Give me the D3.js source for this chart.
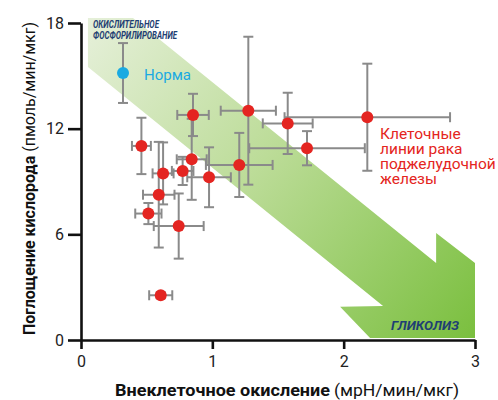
<!DOCTYPE html>
<html>
<head>
<meta charset="utf-8">
<script src="https://cdn.jsdelivr.net/npm/d3@7"></script>
<style>
  html, body { margin: 0; padding: 0; background: #fff; }
  svg { display: block; font-family: Roboto, "Noto Sans", sans-serif; }
</style>
</head>
<body>
<svg id="chart" width="498" height="400"></svg>
<script>
// ---- data ----
const cancerX    = [0.46, 0.853, 1.274, 1.574, 1.721, 2.18, 1.205, 0.975, 0.843, 0.774, 0.625, 0.513, 0.592, 0.744, 0.607];
const cancerY    = [11.02, 12.78, 13.02, 12.30, 10.89, 12.65, 9.94, 9.24, 10.26, 9.60, 9.46, 7.18, 8.25, 6.47, 2.54];
const cancerXErr = [0.072, 0.12, 0.21, 0.19, 0.44, 0.63, 0.254, 0.166, 0.114, 0.082, 0.08, 0.10, 0.12, 0.19, 0.088];
const cancerYErr = [1.6, 1.2, 4.2, 1.74, 0.97, 3.04, 1.82, 1.7, 2.3, 0.8, 1.76, 0.6, 3.0, 1.85, 0.17];
const normalX = [0.32], normalY = [15.16], normalXErr = [0], normalYErr = [1.7];
const xTicks = [0, 1, 2, 3];
const yTicks = [0, 6, 12, 18];
const normalLabel = "Норма";
const cancerLabel = ["Клеточные", "линии рака", "поджелудочной", "железы"];
const topBandLabel = ["ОКИСЛИТЕЛЬНОЕ", "ФОСФОРИЛИРОВАНИЕ"];
const arrowLabel = "ГЛИКОЛИЗ";
const xTitleBold = "Внеклеточное окисление", xTitleUnit = "(мрН/мин/мкг)";
const yTitleBold = "Поглощение кислорода", yTitleUnit = " (пмоль/мин/мкг)";
// arrow outline in data units
const arrowShape = [[0.053,18.28],[0.396,18.28],[2.704,4.37],[2.704,6.08],[3.0,4.37],[3.0,0.11],[2.201,0.11],[1.973,1.89],[2.30,1.93],[0.053,15.5]];

// ---- layout ----
const svg = d3.select("#chart");
const x = d3.scaleLinear().domain([0, 3]).range([81, 475]);
const y = d3.scaleLinear().domain([0, 18]).range([340, 23]);

const defs = svg.append("defs");
const grad = defs.append("linearGradient").attr("id", "g1")
  .attr("gradientUnits", "userSpaceOnUse")
  .attr("x1", x(0)).attr("y1", y(18)).attr("x2", x(3)).attr("y2", y(0));
grad.append("stop").attr("offset", 0).attr("stop-color", "#e6f0da");
grad.append("stop").attr("offset", 0.45).attr("stop-color", "#bcdc98");
grad.append("stop").attr("offset", 1).attr("stop-color", "#7abf3e");

svg.append("path")
  .attr("d", d3.line().x(d => x(d[0])).y(d => y(d[1]))(arrowShape) + "Z")
  .attr("fill", "url(#g1)");

// band labels
const tl = svg.append("text").attr("fill", "#1f3f73").attr("font-weight", 700)
  .attr("font-style", "italic").attr("font-size", 10);
tl.append("tspan").attr("x", 93).attr("y", 27.5).attr("textLength", 66)
  .attr("lengthAdjust", "spacingAndGlyphs").text(topBandLabel[0]);
tl.append("tspan").attr("x", 93).attr("y", 38.5).attr("textLength", 84)
  .attr("lengthAdjust", "spacingAndGlyphs").text(topBandLabel[1]);

svg.append("text").attr("x", 391).attr("y", 330).attr("fill", "#1f3f73")
  .attr("font-weight", 700).attr("font-style", "italic").attr("font-size", 12)
  .attr("textLength", 68).attr("lengthAdjust", "spacingAndGlyphs").text(arrowLabel);

// axes
const yAxis = svg.append("g").attr("transform", `translate(${x(0)},0)`)
  .call(d3.axisLeft(y).tickValues(yTicks).tickFormat(d3.format("d")).tickSize(13).tickSizeOuter(0).tickPadding(4));
const xAxis = svg.append("g").attr("transform", `translate(0,${y(0)})`)
  .call(d3.axisBottom(x).tickValues(xTicks).tickFormat(d3.format("d")).tickSize(9).tickSizeOuter(0).tickPadding(6.5));
[yAxis, xAxis].forEach(g => {
  g.selectAll("path, line").attr("stroke", "#111").attr("stroke-width", 2.6);
  g.selectAll("text").attr("font-size", 16).attr("fill", "#222").attr("font-family", "Roboto");
});

// error bars + points
function drawSeries(xs, ys, xe, ye) {
  const data = xs.map((v, i) => ({ x: v, y: ys[i], xe: xe[i], ye: ye[i] }));
  const g = svg.append("g").attr("stroke", "#8a8a8a").attr("stroke-width", 2).attr("fill", "none");
  const cap = 5;
  data.forEach(d => {
    if (d.ye > 0) {
      g.append("line").attr("x1", x(d.x)).attr("x2", x(d.x)).attr("y1", y(d.y - d.ye)).attr("y2", y(d.y + d.ye));
      [d.y - d.ye, d.y + d.ye].forEach(v => g.append("line").attr("x1", x(d.x) - cap).attr("x2", x(d.x) + cap).attr("y1", y(v)).attr("y2", y(v)));
    }
    if (d.xe > 0) {
      g.append("line").attr("y1", y(d.y)).attr("y2", y(d.y)).attr("x1", x(d.x - d.xe)).attr("x2", x(d.x + d.xe));
      [d.x - d.xe, d.x + d.xe].forEach(v => g.append("line").attr("y1", y(d.y) - cap).attr("y2", y(d.y) + cap).attr("x1", x(v)).attr("x2", x(v)));
    }
  });
  return data;
}
const cd = drawSeries(cancerX, cancerY, cancerXErr, cancerYErr);
const nd = drawSeries(normalX, normalY, normalXErr, normalYErr);
svg.append("g").selectAll("circle").data(cd).join("circle")
  .attr("cx", d => x(d.x)).attr("cy", d => y(d.y)).attr("r", 6).attr("fill", "#e42521");
svg.append("g").selectAll("circle").data(nd).join("circle")
  .attr("cx", d => x(d.x)).attr("cy", d => y(d.y)).attr("r", 6).attr("fill", "#1aaae2");

// labels
svg.append("text").attr("x", x(normalX[0]) + 21).attr("y", y(normalY[0]) + 7)
  .attr("fill", "#1aaae2").attr("font-size", 15).text(normalLabel);
cancerLabel.forEach((t, i) => svg.append("text").attr("fill", "#e42521").attr("font-size", 15.5)
  .attr("x", 380).attr("y", 138.5 + i * 15.3).text(t));

// axis titles
svg.append("text").attr("x", 115).attr("y", 395.5).attr("font-size", 16).attr("font-weight", 700)
  .attr("fill", "#111").attr("textLength", 215).attr("lengthAdjust", "spacingAndGlyphs").text(xTitleBold);
svg.append("text").attr("x", 334).attr("y", 395.5).attr("font-size", 16)
  .attr("fill", "#111").attr("textLength", 125).attr("lengthAdjust", "spacingAndGlyphs").text(xTitleUnit);
const yt = svg.append("text").attr("transform", "translate(35,178.5) rotate(-90)")
  .attr("text-anchor", "middle").attr("font-size", 16).attr("fill", "#111");
yt.append("tspan").attr("font-weight", 700).text(yTitleBold);
yt.append("tspan").text(yTitleUnit);
</script>
</body>
</html>
